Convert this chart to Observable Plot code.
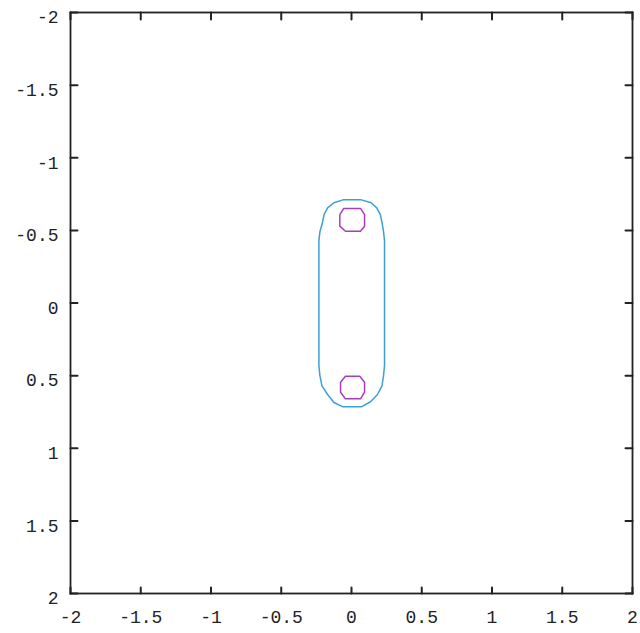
<!DOCTYPE html>
<html>
<head>
<meta charset="utf-8">
<script src="https://cdn.jsdelivr.net/npm/d3@7"></script>
<script src="https://cdn.jsdelivr.net/npm/@observablehq/plot@0.6"></script>
<style>
  html, body { margin: 0; padding: 0; background: #fff; }
  #chart { width: 640px; height: 633px; }
</style>
</head>
<body>
<div id="chart"></div>
<script>
// Tick positions shared by both axes
const tickValues = [-2, -1.5, -1, -0.5, 0, 0.5, 1, 1.5, 2];

// Outer contour level (closed loop, clockwise from the top)
const outerX = [0.07, 0.14, 0.18, 0.205, 0.22, 0.228, 0.235, 0.235, 0.228, 0.217, 0.185, 0.135, 0.07,
                -0.06, -0.125, -0.17, -0.21, -0.225, -0.232, -0.232, -0.225, -0.21, -0.195, -0.17, -0.125, -0.06];
const outerY = [-0.71, -0.69, -0.655, -0.61, -0.54, -0.49, -0.43, 0.43, 0.50, 0.57, 0.63, 0.68, 0.715,
                0.715, 0.685, 0.63, 0.57, 0.50, 0.43, -0.43, -0.49, -0.54, -0.61, -0.655, -0.69, -0.71];

// Inner contour level around the upper peak
const innerTopX = [-0.055, 0.064, 0.093, 0.093, 0.064, -0.043, -0.083, -0.083];
const innerTopY = [-0.651, -0.651, -0.609, -0.529, -0.494, -0.494, -0.529, -0.609];

// Inner contour level around the lower peak
const innerBottomX = [-0.043, 0.059, 0.093, 0.093, 0.064, -0.043, -0.078, -0.078];
const innerBottomY = [0.504, 0.504, 0.545, 0.614, 0.660, 0.660, 0.614, 0.545];

const toPoints = (xs, ys, id) => xs.map((x, i) => ({x, y: ys[i], id}));
const outer = toPoints(outerX, outerY, "outer");
const inner = [...toPoints(innerTopX, innerTopY, "top"), ...toPoints(innerBottomX, innerBottomY, "bottom")];

const font = "'Liberation Mono', 'DejaVu Sans Mono', monospace";
const label = d => String(d);
const ink = "#222";

const width = 640, height = 633;
const margin = {top: 12, right: 8, bottom: 40, left: 70};
const tickLen = 7;
const tickStyle = {stroke: ink, strokeWidth: 2};

const chart = Plot.plot({
  width,
  height,
  marginLeft: margin.left,
  marginRight: margin.right,
  marginTop: margin.top,
  marginBottom: margin.bottom,
  style: {fontFamily: font, fontSize: "18px", background: "#fff"},
  x: {domain: [-2, 2]},
  y: {domain: [-2, 2], reverse: true},
  marks: [
    // tick labels
    Plot.axisX(tickValues, {anchor: "bottom", tickSize: 0, tickPadding: 17, tickFormat: label, label: null, fontSize: 18, fill: ink}),
    Plot.axisY(tickValues, {anchor: "left", tickSize: 0, tickPadding: 12, tickFormat: label, label: null, fontSize: 18, dy: 5, fill: ink}),
    // short tick marks on all four edges, pointing into the frame
    Plot.vector(tickValues, {x: d => d, frameAnchor: "bottom", rotate: 0, length: tickLen - 1, r: 0, anchor: "start", ...tickStyle}),
    Plot.vector(tickValues, {x: d => d, frameAnchor: "top", rotate: 180, length: tickLen, r: 0, anchor: "start", ...tickStyle}),
    Plot.vector(tickValues, {y: d => d, frameAnchor: "left", rotate: 90, length: tickLen, r: 0, anchor: "start", ...tickStyle}),
    Plot.vector(tickValues, {y: d => d, frameAnchor: "right", rotate: -90, length: tickLen, r: 0, anchor: "start", ...tickStyle}),
    // contour lines
    Plot.line(outer, {x: "x", y: "y", z: "id", curve: "linear-closed", stroke: "#3d9fd6", strokeWidth: 1.5}),
    Plot.line(inner, {x: "x", y: "y", z: "id", curve: "linear-closed", stroke: "#a83cc0", strokeWidth: 1.5}),
    Plot.frame({stroke: ink, strokeWidth: 1.8})
  ]
});

document.getElementById("chart").appendChild(chart);
</script>
</body>
</html>
